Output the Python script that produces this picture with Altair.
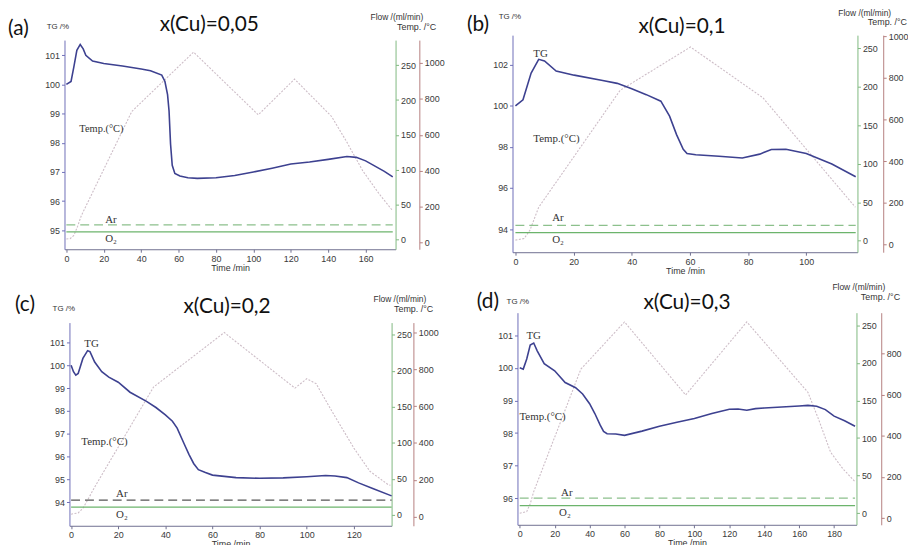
import altair as alt
import pandas as pd

# ---------------- data ----------------
# Panel (a) x(Cu)=0,05
a_tg_t = [0, 2.5, 4, 5.6, 7.4, 9, 10.4, 14, 20, 30, 40, 45, 51, 52.7, 54.1, 54.9, 55.7, 56.6, 58, 60.7, 65, 70, 80, 90, 100, 110, 120, 130, 140, 150, 155, 160, 165, 170, 174.5]
a_tg_v = [100.0, 100.1, 100.6, 101.17, 101.37, 101.22, 101.0, 100.8, 100.72, 100.63, 100.53, 100.47, 100.32, 100.1, 99.65, 99.09, 97.96, 97.23, 96.95, 96.86, 96.8, 96.78, 96.8, 96.88, 97.0, 97.13, 97.27, 97.34, 97.43, 97.53, 97.5, 97.38, 97.2, 97.02, 96.83]
a_temp_t = [0, 2, 4, 6, 8, 35, 68, 102.6, 122, 141.8, 149.7, 158.5, 167.3, 174.4]
a_temp_v = [20, 22, 40, 90, 150, 730, 1060, 711, 910, 702, 564, 399, 270, 178]
a_ar, a_o2 = 21, 11

# Panel (b) x(Cu)=0,1
b_tg_t = [0, 2.6, 5.4, 8, 10, 14, 20.2, 30, 35, 40, 45, 50, 53, 55.4, 57.7, 59, 62, 70, 78, 84, 88, 93, 100, 108.8, 117]
b_tg_v = [100.0, 100.3, 101.6, 102.27, 102.19, 101.7, 101.5, 101.24, 101.1, 100.84, 100.55, 100.23, 99.5, 98.6, 97.89, 97.68, 97.62, 97.55, 97.46, 97.65, 97.88, 97.89, 97.68, 97.17, 96.55]
b_temp_t = [0, 3, 5, 8, 36, 60.2, 85.1, 116.9]
b_temp_v = [20, 28, 68, 178, 740, 948, 704, 178]
b_ar, b_o2 = 20, 10.5

# Panel (c) x(Cu)=0,2
c_tg_t = [0, 1, 2, 3, 5, 7, 8, 10, 13, 16, 20, 25, 32, 36, 40, 43, 45, 48, 50, 52, 54, 57, 60, 70, 80, 90, 100, 108, 112, 117, 122, 128, 136]
c_tg_v = [100.0, 99.72, 99.57, 99.64, 100.3, 100.64, 100.6, 100.14, 99.72, 99.48, 99.26, 98.82, 98.42, 98.15, 97.83, 97.55, 97.25, 96.55, 96.1, 95.7, 95.43, 95.3, 95.19, 95.08, 95.05, 95.07, 95.12, 95.17, 95.15, 95.08, 94.85, 94.6, 94.28]
c_temp_t = [0, 3, 5, 7, 10, 35, 65, 95, 100, 104, 110, 120, 126.8, 134.5, 135.5]
c_temp_v = [13, 20, 45, 90, 160, 704, 1000, 698, 749, 722, 587, 372, 246, 174, 170]
c_ar, c_o2 = 20.5, 11

# Panel (d) x(Cu)=0,3
d_tg_t = [0, 2, 4, 6, 8, 10, 14, 20, 26, 32, 36, 40, 43, 46, 48, 50, 55, 60, 70, 80, 90, 100, 110, 120, 125, 130, 135, 140, 150, 160, 165, 170, 175, 180, 186, 192]
d_tg_v = [100.0, 99.96, 100.27, 100.7, 100.76, 100.52, 100.13, 99.91, 99.55, 99.39, 99.2, 98.9, 98.6, 98.25, 98.05, 97.98, 97.97, 97.93, 98.06, 98.21, 98.33, 98.45, 98.6, 98.73, 98.74, 98.7, 98.75, 98.77, 98.8, 98.83, 98.85, 98.82, 98.72, 98.52, 98.38, 98.21]
d_temp_t = [0, 4, 6, 8, 35, 60, 95, 130, 165, 171, 178, 185, 192]
d_temp_v = [24, 32, 70, 129, 723, 952, 598, 952, 611, 482, 320, 240, 177]
d_ar, d_o2 = 20, 10

titles = ["x(Cu)=0,05", "x(Cu)=0,1", "x(Cu)=0,2", "x(Cu)=0,3"]
letters = ["(a)", "(b)", "(c)", "(d)"]
tg_ticks = [[95, 96, 97, 98, 99, 100, 101], [94, 96, 98, 100, 102],
            [94, 95, 96, 97, 98, 99, 100, 101], [96, 97, 98, 99, 100, 101]]
time_ticks = [list(range(0, 161, 20)), list(range(0, 101, 20)),
              list(range(0, 121, 20)), list(range(0, 181, 20))]
flow_ticks = [0, 50, 100, 150, 200, 250]
temp_ticks = [0, 200, 400, 600, 800, 1000]

# ---------------- layout (pixels inside the view; image = view + 8) ----------------
W, H = 908, 537
layout = [
    dict(xr=[57, 391], yr=[241, 30], xd=[-1, 176], tgd=[94.35, 101.52], fd=[-14, 286], td=[-37, 1127], red=415,
         letter=(0, 19), title=(203, 15), tg=(39, 17), flow=(419, 7), temp=(432, 17),
         tglab=None, templab=(72, 120), ar=(98, 212), o2=(98, 231), tempsize=10.5),
    dict(xr=[509, 857], yr=[244, 25], xd=[-1, 117.6], tgd=[92.87, 103.45], fd=[-15, 267], td=[-38, 1005], red=883,
         letter=(463, 15), title=(680, 17), tg=(495, 7), flow=(891, 3), temp=(907, 12),
         tglab=(530, 44), templab=(530, 130), ar=(549, 210), o2=(549, 232), tempsize=11),
    dict(xr=[62, 387], yr=[520, 315], xd=[-0.7, 136], tgd=[92.97, 101.87], fd=[-15, 267], td=[-50, 1054], red=409,
         letter=(7, 297), title=(221, 299), tg=(45, 301), flow=(422, 291), temp=(429, 301),
         tglab=(77, 337), templab=(74, 435), ar=(109, 488), o2=(109, 509), tempsize=11),
    dict(xr=[514, 856], yr=[519, 305], xd=[-1.3, 192.8], tgd=[95.19, 101.69], fd=[-15.4, 266.8], td=[-32, 997], red=881,
         letter=(473, 294), title=(685, 295), tg=(503, 294), flow=(885, 279), temp=(900, 289),
         tglab=(523, 329), templab=(516, 410), ar=(558, 487), o2=(556, 507), tempsize=11),
]

series = [
    (a_tg_t, a_tg_v, a_temp_t, a_temp_v, a_ar, a_o2),
    (b_tg_t, b_tg_v, b_temp_t, b_temp_v, b_ar, b_o2),
    (c_tg_t, c_tg_v, c_temp_t, c_temp_v, c_ar, c_o2),
    (d_tg_t, d_tg_v, d_temp_t, d_temp_v, d_ar, d_o2),
]

TG_COL = "#3d4190"
TEMP_COL = "#cdbdc7"
AXIS_TG = "#6e6eb8"
AXIS_FLOW = "#7fb87f"
AXIS_TEMP = "#b58080"
AXIS_X = "#6f6f90"
LABEL_COL = "#3a3a3a"
SANS = "Liberation Sans"
SERIF = "Liberation Serif"
TITLE_FONT = "Lato"

dummy = pd.DataFrame({"k": [0]})


def text(x, y, s, size, font, align="left", color="#222222", baseline="middle"):
    return alt.Chart(dummy).mark_text(
        text=s, font=font, fontSize=size, align=align, baseline=baseline, color=color
    ).encode(x=alt.value(x), y=alt.value(y))


layers = []
for i, (L, S) in enumerate(zip(layout, series)):
    tg_t, tg_v, temp_t, temp_v, ar, o2 = S
    xs = alt.Scale(domain=L["xd"], range=L["xr"], nice=False, zero=False)
    tgs = alt.Scale(domain=L["tgd"], range=L["yr"], nice=False, zero=False)
    fs = alt.Scale(domain=L["fd"], range=L["yr"], nice=False, zero=False)
    ts = alt.Scale(domain=L["td"], range=L["yr"], nice=False, zero=False)

    x_axis = alt.Axis(orient="bottom", offset=L["yr"][0] - H, values=time_ticks[i], title="Time /min",
                      format="d", domainColor=AXIS_X, tickColor=AXIS_X, titleFontSize=9,
                      titleFontWeight="normal", titleFont=SANS, titlePadding=0, titleColor="#333333")
    tg_axis = alt.Axis(orient="left", offset=-L["xr"][0], values=tg_ticks[i], title=None, format="d",
                       domainColor=AXIS_TG, tickColor=AXIS_TG)
    flow_axis = alt.Axis(orient="right", offset=L["xr"][1] - W, values=flow_ticks, title=None, format="d",
                         domainColor=AXIS_FLOW, tickColor=AXIS_FLOW)
    temp_axis = alt.Axis(orient="right", offset=L["red"] - W, values=temp_ticks, title=None, format="d",
                         domainColor=AXIS_TEMP, tickColor=AXIS_TEMP)

    temp_df = pd.DataFrame({"t": temp_t, "v": temp_v})
    tg_df = pd.DataFrame({"t": tg_t, "v": tg_v})
    t_end = tg_t[-1]
    gas_df = pd.DataFrame({"t0": [0, 0], "t1": [t_end, t_end], "f": [ar, o2], "gas": ["Ar", "O2"]})

    temp_layer = alt.Chart(temp_df).mark_line(
        color=TEMP_COL, strokeWidth=1.1, strokeDash=[2, 1.5]
    ).encode(x=alt.X("t:Q", scale=xs, axis=None), y=alt.Y("v:Q", scale=ts, axis=temp_axis))

    ar_col = "#555555" if i == 2 else "#8cc08c"
    ar_layer = alt.Chart(gas_df[gas_df.gas == "Ar"]).mark_rule(
        color=ar_col, strokeWidth=1.3, strokeDash=[9, 5]
    ).encode(x=alt.X("t0:Q", scale=xs, axis=None), x2="t1:Q", y=alt.Y("f:Q", scale=fs, axis=flow_axis))
    o2_layer = alt.Chart(gas_df[gas_df.gas == "O2"]).mark_rule(
        color="#6cb46c", strokeWidth=1.2
    ).encode(x=alt.X("t0:Q", scale=xs, axis=None), x2="t1:Q", y=alt.Y("f:Q", scale=fs, axis=None))

    tg_layer = alt.Chart(tg_df).mark_line(
        color=TG_COL, strokeWidth=1.6
    ).encode(x=alt.X("t:Q", scale=xs, axis=x_axis), y=alt.Y("v:Q", scale=tgs, axis=tg_axis))

    layers += [temp_layer, ar_layer, o2_layer, tg_layer]

    layers.append(text(L["letter"][0], L["letter"][1], letters[i], 21, TITLE_FONT, color="#111111"))
    layers.append(text(L["title"][0], L["title"][1], titles[i], 21, TITLE_FONT, align="center", color="#111111"))
    layers.append(text(L["tg"][0], L["tg"][1], "TG /%", 8, SANS, color="#333333"))
    layers.append(text(L["flow"][0], L["flow"][1], "Flow /(ml/min)", 8.5, SANS, align="right", color="#333333"))
    layers.append(text(L["temp"][0], L["temp"][1], "Temp. /°C", 9, SANS, align="right", color="#333333"))
    if L["tglab"]:
        layers.append(text(L["tglab"][0], L["tglab"][1], "TG", 11, SERIF, color="#333333"))
    layers.append(text(L["templab"][0], L["templab"][1], "Temp.(°C)", L["tempsize"], SERIF, color="#333333"))
    layers.append(text(L["ar"][0], L["ar"][1], "Ar", 11, SERIF, color="#333333"))
    layers.append(text(L["o2"][0], L["o2"][1], "O₂", 11, SERIF, color="#333333"))

chart = alt.layer(*layers).resolve_scale(
    x="independent", y="independent"
).properties(
    width=W, height=H, padding=0, autosize=alt.AutoSizeParams(type="none")
).configure_view(stroke=None).configure_axis(
    grid=False, labelFont=SANS, labelFontSize=9, labelColor=LABEL_COL,
    tickSize=3, labelPadding=2, domainWidth=1
)

chart.save("out.html", embed_options={"renderer": "svg", "actions": False})
